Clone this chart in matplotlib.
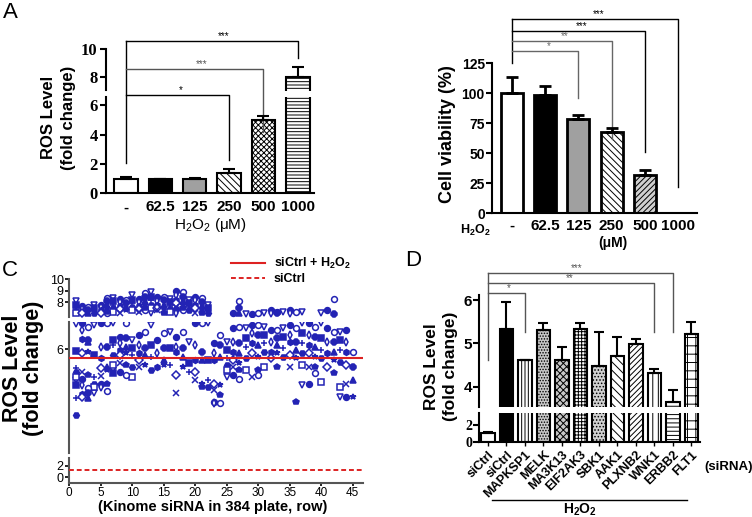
import numpy as np
import matplotlib.pyplot as plt

plt.rcParams['font.family'] = ['Liberation Sans', 'DejaVu Sans']
plt.rcParams['mathtext.fontset'] = 'custom'
plt.rcParams['mathtext.rm'] = 'Liberation Sans'
plt.rcParams['mathtext.bf'] = 'Liberation Sans:bold'
plt.rcParams['mathtext.default'] = 'regular'
plt.rcParams['hatch.linewidth'] = 0.7
plt.rcParams['axes.facecolor'] = 'none'

# panel A (left) - ROS level after H2O2
dose_labels = ['-', '62.5', '125', '250', '500', '1000']
ros_mean = [1.0, 0.95, 1.0, 1.4, 5.0, 8.0]
ros_err = [0.1, 0.05, 0.05, 0.25, 0.3, 0.7]

# panel A (right) - cell viability
via_mean = [100, 99, 79, 68, 32, 0.5]
via_err = [13.5, 7.5, 3, 3, 4.5, 0]

# panel C - kinome screen, one list per plate row
c_ctrl_h2o2 = 5.76
c_ctrl = 1.3
c_upper = [
    [8.1, 7.8, 7.4, 7.2, 7.05], [7.7, 7.4, 7.2, 7.05], [7.55, 7.3, 7.1],
    [7.8, 7.5, 7.3, 7.1], [7.8, 7.6, 7.3, 7.1], [8.4, 8.1, 7.8, 7.5, 7.2, 7.05],
    [8.4, 8.1, 7.8, 7.5, 7.2], [8.3, 8.0, 7.7, 7.4, 7.1], [8.2, 7.9, 7.6, 7.3],
    [8.6, 8.2, 7.9, 7.6, 7.3], [8.3, 8.0, 7.7, 7.4, 7.2], [8.8, 8.5, 8.1, 7.8, 7.5, 7.3],
    [8.9, 8.5, 8.2, 7.8, 7.5, 7.1], [8.5, 8.1, 7.8, 7.5, 7.3], [8.5, 8.2, 7.8, 7.5, 7.1],
    [8.3, 8.0, 7.7, 7.4, 7.2], [9.0, 8.6, 8.2, 7.9, 7.6, 7.4, 7.1], [8.9, 8.5, 8.1, 7.8, 7.5, 7.3],
    [8.2, 7.9, 7.6, 7.3], [8.5, 8.2, 7.8, 7.5, 7.1], [8.4, 8.0, 7.7, 7.4, 7.1],
    [7.8, 7.5, 7.3, 7.1], [], [],
    [], [7.05], [8.15, 7.5, 7.1],
    [7.0], [7.0], [7.1],
    [7.1], [7.3, 7.1], [7.2, 7.05],
    [7.15], [7.35, 7.1], [7.2],
    [7.15], [], [],
    [7.1], [7.3], [8.3, 7.0],
    [], [], [],
]
c_mid = [
    [6.73, 5.95, 5.45, 5.35, 5.2, 5.1, 4.96, 4.58, 4.1],
    [6.75, 6.55, 6.3, 5.88, 5.35, 5.15, 4.96, 4.7, 4.63],
    [6.65, 6.27, 6.22, 5.93, 5.25, 4.87, 4.72, 4.6],
    [6.7, 5.83, 5.2, 5.0, 4.92, 4.72],
    [6.75, 6.07, 5.74, 5.45, 5.22, 5.0, 4.92],
    [6.75, 6.07, 5.5, 5.4, 5.0, 4.8],
    [6.75, 6.27, 6.12, 5.83, 5.54, 5.4, 5.3],
    [6.37, 6.17, 5.98, 5.83, 5.6, 5.35],
    [6.75, 6.32, 6.06, 5.9, 5.54, 5.25],
    [6.27, 6.03, 5.83, 5.5, 5.2],
    [6.41, 6.12, 5.88, 5.69, 5.5],
    [6.51, 6.03, 5.83, 5.54],
    [6.7, 6.12, 5.79, 5.4],
    [6.27, 5.88, 5.5],
    [6.46, 6.03, 5.69, 5.54],
    [6.51, 6.03, 5.54],
    [6.37, 6.07, 5.93, 5.25, 4.72],
    [6.51, 6.03, 5.79, 5.5],
    [6.22, 5.6, 5.35],
    [6.75, 6.12, 5.69, 5.35, 5.1],
    [6.75, 5.93, 5.69, 5.0, 4.92],
    [6.75, 5.69, 5.1, 4.92],
    [6.17, 5.88, 5.69, 5.0, 4.82, 4.48, 4.43],
    [6.41, 6.12, 5.79, 4.96, 4.67, 4.43],
    [6.22, 5.98, 5.74, 5.54, 5.4, 5.2],
    [6.61, 6.22, 5.93, 5.69, 5.5, 5.25],
    [6.65, 6.17, 5.88, 5.6, 5.4, 5.15],
    [6.61, 6.32, 6.07, 5.74, 5.4],
    [6.7, 6.46, 6.17, 5.88, 5.2],
    [6.7, 6.41, 6.12, 5.79, 5.4, 5.25],
    [6.65, 6.41, 6.17, 5.93, 5.5],
    [6.56, 6.22, 5.93, 5.74],
    [6.56, 6.32, 6.12, 5.88, 5.5],
    [6.61, 6.37, 6.03, 5.77],
    [6.7, 6.41, 6.22, 5.83, 5.5],
    [6.61, 6.22, 5.98, 5.74, 4.48],
    [6.75, 6.46, 6.17, 5.88, 5.54, 4.96],
    [6.75, 6.41, 6.12, 5.88, 5.5, 5.0],
    [6.65, 6.37, 6.07, 5.79, 5.5, 5.3],
    [6.75, 6.32, 5.98, 5.74, 5.06],
    [6.61, 6.22, 5.88, 5.5],
    [6.51, 6.22, 5.93, 5.69, 5.3],
    [6.51, 6.27, 5.98, 5.64, 4.92, 4.63],
    [6.56, 6.22, 5.93, 5.54, 5.0, 4.63],
    [5.93, 5.5, 5.1, 4.61],
]

# panel D - candidate kinases
d_labels = ['siCtrl', 'siCtrl', 'MAPKSP1', 'MELK', 'MA3K13', 'EIF2AK3', 'SBK1',
            'AAK1', 'PLXNB2', 'WNK1', 'ERBB2', 'FLT1']
d_mean = [1.05, 5.34, 4.62, 5.31, 4.63, 5.33, 4.48, 4.70, 4.99, 4.31, 3.64, 5.21]
d_err = [0.08, 0.61, 0.0, 0.17, 0.29, 0.15, 0.79, 0.46, 0.11, 0.09, 0.28, 0.28]

W, H = 752, 517
fig = plt.figure(figsize=(W / 100, H / 100), dpi=100)


def box(x0, y0, x1, y1):
    # pixel box (top-left origin) -> figure fraction rect
    return [x0 / W, 1 - y1 / H, (x1 - x0) / W, (y1 - y0) / H]


def clean(ax, bottom=True, lw=1.5):
    for s in ['top', 'right']:
        ax.spines[s].set_visible(False)
    ax.spines['left'].set_linewidth(lw)
    ax.spines['bottom'].set_linewidth(lw)
    if not bottom:
        ax.spines['bottom'].set_visible(False)
        ax.tick_params(axis='x', bottom=False, labelbottom=False)


def draw_bars(ax, x, h, err, faces, hatches, width, lw=1.5, cap=4):
    for xi, hi, fc, ht in zip(x, h, faces, hatches):
        ax.bar(xi, hi, width, color=fc, edgecolor='black', hatch=ht,
               linewidth=lw, zorder=2)
    ax.errorbar(x, h, yerr=[np.zeros(len(err)), err], fmt='none', ecolor='black',
                elinewidth=lw, capsize=cap, capthick=lw, zorder=3)


def bracket(ax, x0, x1, y, y1, stars, sx, color='black', fs=7):
    ax.plot([x0, x1, x1], [y, y, y1], color=color, lw=1, clip_on=False)
    ax.text(sx, y, stars, ha='center', va='bottom', fontsize=fs, color=color)


# ---------------- A left ----------------
xa = np.arange(len(dose_labels))
faces_a = ['white', 'black', '#a0a0a0', 'white', 'white', 'white']
hatch_a = [None, None, None, '\\\\\\\\\\', 'xxxxxx', '-----']
axA_lo = fig.add_axes(box(106, 96.7, 314, 193.3))
axA_hi = fig.add_axes(box(106, 49, 314, 90.5))
for ax in (axA_lo, axA_hi):
    draw_bars(ax, xa, ros_mean, ros_err, faces_a, hatch_a, 0.68)
    ax.set_xlim(-0.58, 5.47)
axA_lo.set_ylim(0, 6.6)
axA_hi.set_ylim(7, 10)
axA_lo.set_yticks([0, 2, 4, 6])
axA_hi.set_yticks([8, 10])
clean(axA_lo)
clean(axA_hi, bottom=False)
for ax in (axA_lo, axA_hi):
    ax.tick_params(axis='y', length=4, width=1.5, pad=2)
    for t in ax.get_yticklabels():
        t.set_family('Liberation Serif')
        t.set_fontweight('bold')
        t.set_fontsize(12)
axA_lo.set_xticks(xa)
axA_lo.set_xticklabels(dose_labels, fontsize=11, fontweight='bold')
axA_lo.tick_params(axis='x', length=0, pad=5)
axA_lo.set_xlabel('H$_2$O$_2$ (μM)', fontsize=11, labelpad=1)
# significance brackets (lower-axis data units)
axA_lo.plot([0, 0], [10.42, 2.07], color='black', lw=1, clip_on=False)
bracket(axA_lo, 0, 5, 10.42, 9.24, '***', 2.85)
bracket(axA_lo, 0, 4, 8.47, 4.18, '***', 2.2, color='#555555')
bracket(axA_lo, 0, 3, 6.7, 2.27, '*', 1.6)
fig.text(58.5 / W, 1 - 117.5 / H, 'ROS Level\n(fold change)', rotation=90,
         ha='center', va='center', fontsize=12, fontweight='bold', linespacing=1.35)
fig.text(3 / W, 1 - 12 / H, 'A', fontsize=16, ha='left', va='center')

# ---------------- A right ----------------
faces_b = ['white', 'black', '#a0a0a0', 'white', '#d0d0d0', 'white']
hatch_b = [None, None, None, '\\\\\\\\\\', '//////', None]
axB = fig.add_axes(box(491.7, 63.3, 696.7, 213.3))
draw_bars(axB, xa, via_mean, via_err, faces_b, hatch_b, 0.66, lw=2)
axB.set_xlim(-0.6, 5.55)
axB.set_ylim(0, 125)
axB.set_yticks([0, 25, 50, 75, 100, 125])
clean(axB)
axB.tick_params(axis='y', length=4, width=1.5, pad=1, labelsize=10)
for t in axB.get_yticklabels():
    t.set_fontweight('bold')
axB.set_xticks(xa)
axB.set_xticklabels(dose_labels, fontsize=11, fontweight='bold')
axB.tick_params(axis='x', length=0, pad=4)
axB.plot([0, 0], [161.7, 125], color='black', lw=1, clip_on=False)
bracket(axB, 0, 5, 161.7, 22.2, '***', 2.6)
bracket(axB, 0, 4, 152.2, 51.3, '***', 2.1)
bracket(axB, 0, 3, 143.6, 61.7, '**', 1.6, color='#666666')
bracket(axB, 0, 2, 135.5, 96.3, '*', 1.1, color='#666666')
fig.text(448 / W, 1 - 134 / H, 'Cell viability (%)', rotation=90, ha='center',
         va='center', fontsize=13, fontweight='bold')
fig.text(475 / W, 1 - 230 / H, 'H$_2$O$_2$', ha='center', va='center', fontsize=9,
         fontweight='bold')
fig.text(613 / W, 1 - 243 / H, '(μM)', ha='center', va='center', fontsize=10,
         fontweight='bold')

# ---------------- C ----------------
blue = '#2323b4'
axC_hi = fig.add_axes(box(69.3, 279.3, 363.3, 316.7))
axC_mid = fig.add_axes(box(69.3, 321.7, 363.3, 452.7))
axC_lo = fig.add_axes(box(69.3, 458.3, 363.3, 483.3))
styles = [('o', False), ('h', True), ('s', False), ('8', True), ('D', False),
          ('v', False), ('^', True), ('x', True), ('s', True), ('*', True),
          ('o', True), ('+', True), ('p', True), ('d', False), ('H', True)]
for ax, rows in ((axC_hi, c_upper), (axC_mid, c_mid)):
    pts = {}
    for r, vals in enumerate(rows, start=1):
        for j, v in enumerate(vals):
            k = (r * 5 + j * 3) % len(styles)
            pts.setdefault(k, ([], []))
            pts[k][0].append(r)
            pts[k][1].append(v)
    for k, (xs, ys) in pts.items():
        m, filled = styles[k]
        ax.plot(xs, ys, ls='none', marker=m, ms=4.2,
                mfc=blue if filled else 'white', mec=blue, mew=1.1, zorder=3)
ctrl_h2o2_line = axC_mid.axhline(c_ctrl_h2o2, color='#dd2222', lw=1.5, zorder=4)
ctrl_line = axC_lo.axhline(c_ctrl, color='#dd2222', lw=1.4, ls=(0, (2.5, 1.5)), zorder=4)
axC_hi.set_ylim(6.75, 10)
axC_mid.set_ylim(3.0, 6.8)
axC_lo.set_ylim(-1.06, 3.36)
axC_hi.set_yticks([8, 9, 10])
axC_mid.set_yticks([6])
axC_lo.set_yticks([0, 2])
for ax in (axC_hi, axC_mid, axC_lo):
    ax.set_xlim(0, 46.7)
    ax.tick_params(axis='y', length=3, width=1.2, labelsize=9, pad=1)
    ax.spines['left'].set_color('#555555')
clean(axC_hi, bottom=False, lw=1.5)
clean(axC_mid, bottom=False, lw=1.5)
clean(axC_lo, lw=1.5)
axC_lo.spines['bottom'].set_color('#555555')
axC_lo.set_xticks(np.arange(0, 46, 5))
axC_lo.tick_params(axis='x', length=2, width=1.2, labelsize=8.5, pad=1)
fig.text(213 / W, 1 - 507 / H, '(Kinome siRNA in 384 plate, row)', ha='center',
         va='center', fontsize=10.5, fontweight='bold')
fig.text(23 / W, 1 - 368 / H, 'ROS Level\n(fold change)', rotation=90, ha='center',
         va='center', fontsize=15.5, fontweight='bold', linespacing=1.05)
fig.legend([ctrl_h2o2_line, ctrl_line], ['siCtrl + H$_2$O$_2$', 'siCtrl'],
           loc='upper left', bbox_to_anchor=(231 / W, 1 - 256 / H), frameon=False,
           handlelength=2.7, handletextpad=0.7, labelspacing=0.15, borderpad=0,
           borderaxespad=0, prop={'size': 9, 'weight': 'bold'})
fig.text(2 / W, 1 - 270 / H, 'C', fontsize=16, ha='left', va='center')

# ---------------- D ----------------
xd = np.arange(len(d_labels))
faces_d = ['white', 'black', 'white', '#c8c8c8', '#c8c8c8', 'white', '#d0d0d0',
           'white', 'white', 'white', 'white', 'white']
hatch_d = [None, None, '|||||', '......', 'xxxxx', '+++++', '.....', '\\\\\\\\',
           '//////', '|||', '----', '++']
axD_hi = fig.add_axes(box(479.3, 295, 700, 406.7))
axD_lo = fig.add_axes(box(479.3, 413.3, 700, 441.7))
for ax in (axD_hi, axD_lo):
    draw_bars(ax, xd, d_mean, d_err, faces_d, hatch_d, 0.74, lw=1.5, cap=3.5)
    ax.set_xlim(-0.47, 11.46)
axD_hi.set_ylim(3.54, 6.12)
axD_lo.set_ylim(0, 3.4)
axD_hi.set_yticks([4, 5, 6])
axD_lo.set_yticks([0, 2])
clean(axD_hi, bottom=False)
clean(axD_lo)
axD_hi.tick_params(axis='y', length=4, width=1.5, pad=1, labelsize=11)
for t in axD_hi.get_yticklabels():
    t.set_fontweight('bold')
axD_lo.tick_params(axis='y', length=4, width=1.5, pad=1)
for t in axD_lo.get_yticklabels():
    t.set_family('Liberation Serif')
    t.set_fontweight('bold')
    t.set_fontsize(10)
axD_lo.set_xticks(xd)
axD_lo.set_xticklabels(d_labels, rotation=45, ha='right', rotation_mode='anchor',
                       fontsize=9, fontweight='bold')
axD_lo.tick_params(axis='x', length=3, width=1, pad=2)
axD_hi.plot([0, 0], [6.63, 4.62], color='#555555', lw=1, clip_on=False)
bracket(axD_hi, 0, 10, 6.63, 5.27, '***', 4.8, color='#555555')
bracket(axD_hi, 0, 9, 6.40, 5.27, '**', 4.4, color='#555555')
bracket(axD_hi, 0, 2, 6.17, 5.27, '*', 1.1, color='#555555')
axD_lo.plot([0.2, 10.75], [-6.98, -6.98], color='black', lw=1, clip_on=False)
axD_lo.text(4.97, -8.2, 'H$_2$O$_2$', ha='center', va='center', fontsize=10,
            fontweight='bold')
fig.text(729 / W, 1 - 466.7 / H, '(siRNA)', ha='center', va='center', fontsize=9.5,
         fontweight='bold')
fig.text(441 / W, 1 - 366.7 / H, 'ROS Level\n(fold change)', rotation=90, ha='center',
         va='center', fontsize=12.5, fontweight='bold', linespacing=1.25)
fig.text(405 / W, 1 - 260 / H, 'D', fontsize=16, ha='left', va='center')

fig.savefig('out.png', dpi=100)
